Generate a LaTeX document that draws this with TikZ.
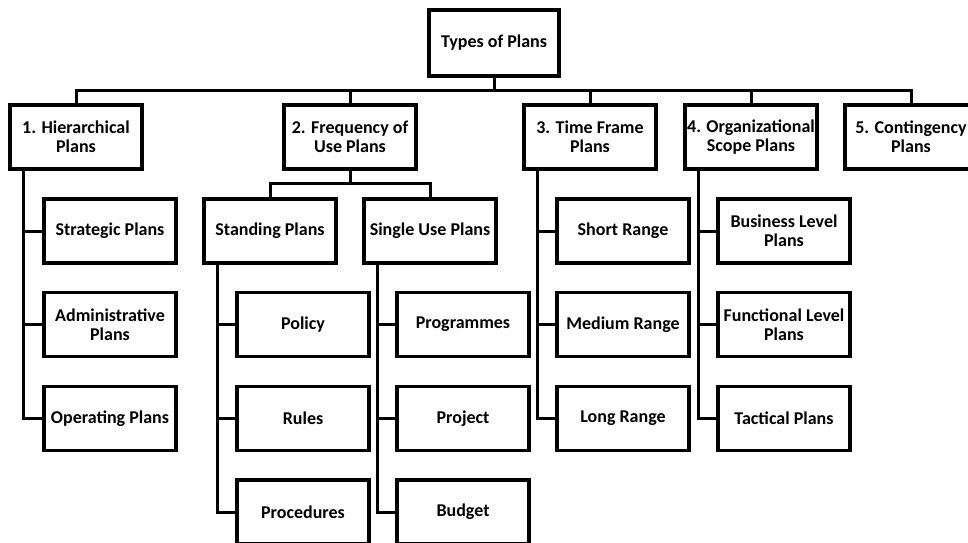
\documentclass[tikz,border=0pt]{standalone}
\usepackage{fontspec}
\setmainfont{Carlito}
\usetikzlibrary{positioning,calc}
\tikzset{
    planbox/.style={draw, line width=3.5pt, minimum width=132pt, minimum height=64pt,
        align=center, inner sep=1pt, font=\bfseries\fontsize{18}{19}\selectfont},
    link/.style={line width=3pt}
}

\begin{document}
\begin{tikzpicture}[x=1pt,y=-1pt]

            \clip (0,0) rectangle (968,542);
            \fill[white] (0,0) rectangle (968,542);

            % Draw top box.
            \node[planbox, minimum width=130pt, minimum height=66pt] (types) at (494,43) {Types of Plans};

            % Draw main plan types.
            \node[planbox] (hier) at (76,137)  {1. Hierarchical\\Plans};
            \node[planbox] (freq) at (350,137) {2. Frequency of\\Use Plans};
            \node[planbox] (time) at (590,137) {3. Time Frame\\Plans};
            \node[planbox] (org)  at (751,137) {4. Organizational\\Scope Plans};
            \node[planbox] (cont) at (911,137) {5. Contingency\\Plans};

            % Draw frequency of use split.
            \node[planbox] (stand)  at (270,231) {Standing Plans};
            \node[planbox] (single) at (430,231) {Single Use Plans};

            % Draw sub plans.
            \node[planbox] (strat) at (110,231)   {Strategic Plans};
            \node[planbox] (admin) at (110,324.5) {Administrative\\Plans};
            \node[planbox] (oper)  at (110,418.5) {Operating Plans};

            \node[planbox] (policy) at (303,324.5) {Policy};
            \node[planbox] (rules)  at (303,418.5) {Rules};
            \node[planbox] (proc)   at (303,512)   {Procedures};

            \node[planbox] (prog)   at (463,324.5) {Programmes};
            \node[planbox] (proj)   at (463,418.5) {Project};
            \node[planbox] (budget) at (463,512)   {Budget};

            \node[planbox] (short) at (623,231)   {Short Range};
            \node[planbox] (med)   at (623,324.5) {Medium Range};
            \node[planbox] (long)  at (623,418.5) {Long Range};

            \node[planbox] (busi)  at (784,231)   {Business Level\\Plans};
            \node[planbox] (func)  at (784,324.5) {Functional Level\\Plans};
            \node[planbox] (tact)  at (784,418.5) {Tactical Plans};

            % Draw bus lines.
            \coordinate (bus) at (0,90);
            \coordinate (subbus) at (0,183);
            \foreach \n in {hier,freq,time,org,cont}
                \draw[link] (types.south) -- (types.south |- bus) -| (\n.north);
            \foreach \n in {stand,single}
                \draw[link] (freq.south) -- (freq.south |- subbus) -| (\n.north);

            % Draw side branches.
            \foreach \p/\c in {hier/strat,hier/admin,hier/oper,
                               stand/policy,stand/rules,stand/proc,
                               single/prog,single/proj,single/budget,
                               time/short,time/med,time/long,
                               org/busi,org/func,org/tact}
                \draw[link] ([xshift=15pt]\p.south west) |- (\c.west);

            \end{tikzpicture}
\end{document}
